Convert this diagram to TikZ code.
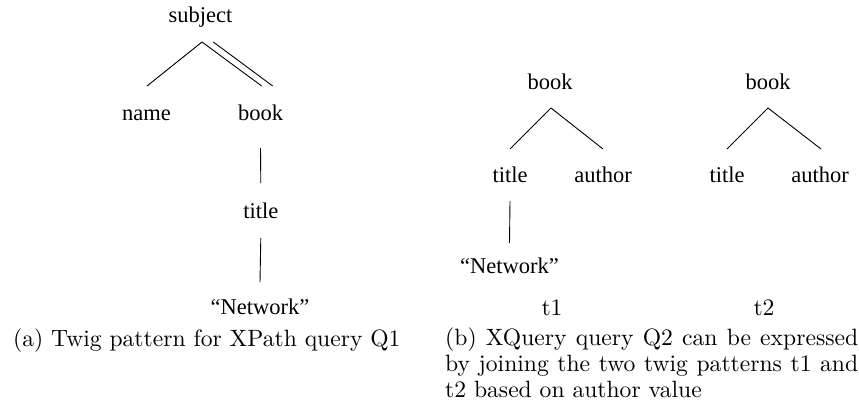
\documentclass[tikz,border=0pt]{standalone}
\usepackage{fontspec}
\newfontfamily\tms{Liberation Serif}[Ligatures=TeX]
\newcommand\capsc[1]{\scalebox{2.36}{\fontsize{10}{12}\selectfont #1}}
\begin{document}
\begin{tikzpicture}[x=1pt,y=1pt,
  tn/.style={font={\fontspec{Liberation Serif}\fontsize{22.5}{27}\selectfont}, anchor=base, inner sep=0pt},
  captxt/.style={anchor=base west, inner sep=0pt},
  lbltxt/.style={anchor=base, inner sep=0pt},
  conn/.style={line width=0.9pt}]
\useasboundingbox (0,0) rectangle (859,-416);
% ---- tree (a)
\node[tn] (subj)  at (200.5,-22)  {subject};
\node[tn] (name)  at (146.5,-120) {name};
\node[tn] (bookA) at (260.5,-120) {book};
\node[tn] (titA)  at (260.8,-218) {title};
\node[tn] (netA)  at (260,-314)   {“Network”};
\draw[conn] ([shift={(1.5,-20)}]subj.base) -- ([shift={(0.5,34)}]name.base);
\draw[conn] ([shift={(1.5,-20)}]subj.base) -- ([shift={(1.2,34)}]bookA.base);
\draw[conn] ([shift={(12.8,-20)}]subj.base) -- ([shift={(12.2,34)}]bookA.base);
\draw[conn] ([yshift=-28]bookA.base) -- ([yshift=35]titA.base);
\draw[conn] ([yshift=-20]titA.base) -- ([yshift=32]netA.base);
% ---- tree t1
\node[tn] (bookB) at (550,-89)  {book};
\node[tn] (titB)  at (510,-182) {title};
\node[tn] (autB)  at (603,-182) {author};
\node[tn] (netB)  at (509.5,-273) {“Network”};
\draw[conn] ([shift={(1,-19)}]bookB.base) -- ([yshift=33]titB.base);
\draw[conn] ([shift={(1,-19)}]bookB.base) -- ([yshift=33]autB.base);
\draw[conn] ([yshift=-19]titB.base) -- ([yshift=30]netB.base);
% ---- tree t2
\node[tn] (bookC) at (768,-89)  {book};
\node[tn] (titC)  at (727,-182) {title};
\node[tn] (autC)  at (820,-182) {author};
\draw[conn] ([yshift=-19]bookC.base) -- ([yshift=33]titC.base);
\draw[conn] ([yshift=-19]bookC.base) -- ([shift={(1,33)}]autC.base);
% ---- labels and captions
\node[lbltxt] (t1) at (552,-315) {\capsc{t1}};
\node[lbltxt] (t2) at (764,-315) {\capsc{t2}};
\node[captxt] (capA) at (13,-346) {\capsc{(a) Twig pattern for XPath query Q1}};
\node[captxt] (capB1) at (445,-345) {\capsc{\makebox[175pt][s]{(b) XQuery query Q2 can be expressed}}};
\node[captxt] (capB2) at (445,-371) {\capsc{\makebox[175pt][s]{by joining the two twig patterns t1 and}}};
\node[captxt] (capB3) at (445,-397) {\capsc{t2 based on author value}};
\end{tikzpicture}
\end{document}
